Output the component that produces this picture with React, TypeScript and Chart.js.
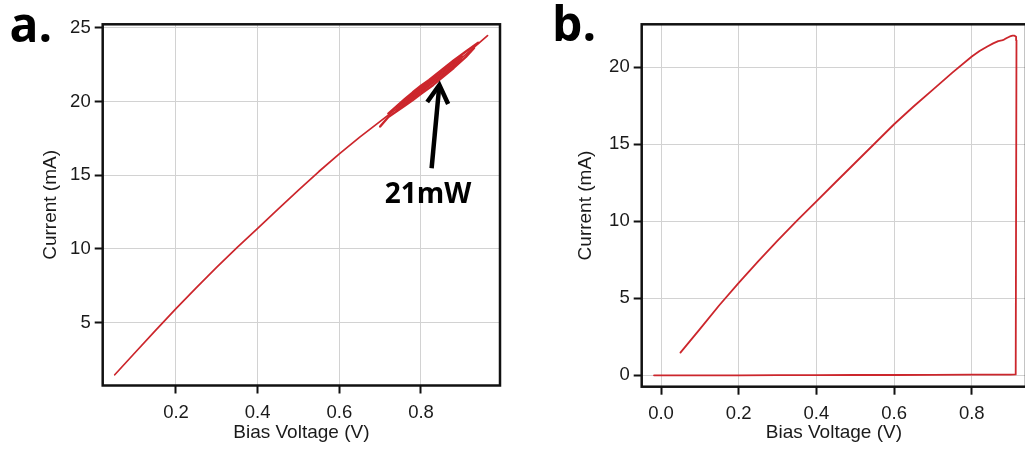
import React, { useEffect, useRef } from 'react';
import { Chart, registerables } from 'chart.js';

Chart.register(...registerables);

// ---------- Panel a data ----------
const aVoltage = [0.05, 0.1, 0.15, 0.2, 0.25, 0.3, 0.35, 0.4, 0.45, 0.5, 0.55, 0.6, 0.65, 0.7, 0.75, 0.8, 0.85, 0.9, 0.963];
const aCurrent = [1.47, 2.98, 4.48, 5.95, 7.38, 8.77, 10.1, 11.4, 12.7, 13.98, 15.25, 16.45, 17.58, 18.65, 19.72, 20.79, 21.85, 22.95, 24.46];
// noisy band of repeated sweeps near high bias (several overlapping traces)
const aBandUpperV = [0.72, 0.76, 0.78, 0.8, 0.82, 0.85, 0.88, 0.91, 0.94];
const aBandUpperI = [19.18, 20.15, 20.62, 21.06, 21.45, 22.12, 22.78, 23.39, 23.98];
const aBandLowerV = [0.7, 0.72, 0.76, 0.78, 0.8, 0.83, 0.85, 0.88, 0.91, 0.93];
const aBandLowerI = [18.3, 18.95, 19.71, 20.1, 20.52, 21.12, 21.58, 22.27, 23.02, 23.62];
const aBandMidUpV = [0.74, 0.8, 0.85, 0.9];
const aBandMidUpI = [19.62, 20.91, 21.97, 23.07];
const aBandMidLoV = [0.74, 0.8, 0.85, 0.9];
const aBandMidLoI = [19.38, 20.67, 21.73, 22.83];
const aXTicks = [0.2, 0.4, 0.6, 0.8];
const aYTicks = [5, 10, 15, 20, 25];
const aArrowTail = [0.826, 15.47];
const aArrowTip = [0.845, 21.12];
const aNoteLabel = '21mW';
const aNotePos = [0.817, 13.66];

// ---------- Panel b data ----------
const bVoltage = [-0.018, 0.1, 0.2, 0.3, 0.4, 0.5, 0.6, 0.7, 0.8, 0.9, 0.913, 0.915, 0.914, 0.91, 0.905, 0.898, 0.89, 0.883, 0.877, 0.868, 0.855, 0.84, 0.82, 0.8, 0.75, 0.7, 0.65, 0.6, 0.55, 0.5, 0.45, 0.4, 0.35, 0.3, 0.25, 0.2, 0.15, 0.1, 0.05];
const bCurrent = [0.0, 0.0, 0.0, 0.01, 0.01, 0.02, 0.02, 0.03, 0.04, 0.05, 0.06, 21.75, 21.98, 22.05, 22.05, 22.0, 21.9, 21.8, 21.74, 21.7, 21.55, 21.35, 21.05, 20.7, 19.65, 18.55, 17.45, 16.3, 15.05, 13.8, 12.55, 11.3, 10.05, 8.75, 7.4, 6.0, 4.55, 3.0, 1.47];
const bXTicks = [0.0, 0.2, 0.4, 0.6, 0.8];
const bYTicks = [0, 5, 10, 15, 20];

const RED = '#cc262c';
const FONT = '"Liberation Sans", Arial, sans-serif';

function makePoints(xs: number[], ys: number[]) {
  return xs.map((x, i) => ({ x, y: ys[i] }));
}

function lineSet(xs: number[], ys: number[], width: number) {
  return {
    data: makePoints(xs, ys),
    showLine: true,
    borderColor: RED,
    backgroundColor: RED,
    borderWidth: width,
    pointRadius: 0,
    tension: 0,
    borderCapStyle: 'round',
    borderJoinStyle: 'round',
  };
}

const framePlugin = {
  id: 'frame',
  afterDraw(chart: any) {
    const { ctx, chartArea } = chart;
    const { left, top, right, bottom } = chartArea;
    ctx.save();
    ctx.strokeStyle = '#111';
    ctx.lineWidth = 2.5;
    ctx.strokeRect(left, top, right - left, bottom - top);
    ctx.restore();
  },
};

function panelLabelPlugin(text: string, x: number, y: number) {
  return {
    id: 'panelLabel',
    afterDraw(chart: any) {
      const ctx = chart.ctx;
      ctx.save();
      ctx.fillStyle = '#000';
      ctx.font = 'bold 48px "Open Sans", sans-serif';
      ctx.textAlign = 'left';
      ctx.textBaseline = 'alphabetic';
      ctx.fillText(text, x, y);
      ctx.restore();
    },
  };
}

const arrowPlugin = {
  id: 'arrowNote',
  afterDatasetsDraw(chart: any) {
    const { ctx, scales } = chart;
    const xs = scales.x;
    const ys = scales.y;
    const tx = xs.getPixelForValue(aArrowTip[0]);
    const ty = ys.getPixelForValue(aArrowTip[1]);
    const bx = xs.getPixelForValue(aArrowTail[0]);
    const by = ys.getPixelForValue(aArrowTail[1]);
    const dx = bx - tx;
    const dy = by - ty;
    const len = Math.hypot(dx, dy);
    const ux = dx / len;
    const uy = dy / len;
    const ang = (30 * Math.PI) / 180;
    const hl = 21;
    const rot = (a: number) => [ux * Math.cos(a) - uy * Math.sin(a), ux * Math.sin(a) + uy * Math.cos(a)];
    const w1 = rot(ang);
    const w2 = rot(-ang);
    ctx.save();
    ctx.strokeStyle = '#000';
    ctx.lineWidth = 4.5;
    ctx.lineCap = 'butt';
    ctx.lineJoin = 'miter';
    ctx.beginPath();
    ctx.moveTo(bx, by);
    ctx.lineTo(tx + ux * 2, ty + uy * 2);
    ctx.stroke();
    ctx.beginPath();
    ctx.moveTo(tx + w1[0] * hl, ty + w1[1] * hl);
    ctx.lineTo(tx, ty);
    ctx.lineTo(tx + w2[0] * hl, ty + w2[1] * hl);
    ctx.stroke();
    ctx.fillStyle = '#000';
    ctx.font = 'bold 28px "Open Sans", sans-serif';
    ctx.textAlign = 'center';
    ctx.textBaseline = 'middle';
    ctx.fillText(aNoteLabel, xs.getPixelForValue(aNotePos[0]), ys.getPixelForValue(aNotePos[1]));
    ctx.restore();
  },
};

function axisOptions(
  ticksList: number[],
  min: number,
  max: number,
  isX: boolean,
  title: string,
  size: number,
  titlePad: any
) {
  return {
    type: 'linear',
    position: isX ? 'bottom' : 'left',
    min,
    max,
    afterBuildTicks: (scale: any) => {
      scale.ticks = ticksList.map((v) => ({ value: v }));
    },
    afterFit: (scale: any) => {
      if (isX) scale.height = size;
      else scale.width = size;
    },
    border: { display: false },
    grid: {
      color: '#d2d2d2',
      lineWidth: 1,
      drawTicks: true,
      tickLength: 8,
      tickColor: '#111',
      tickWidth: 2,
    },
    ticks: {
      color: '#1a1a1a',
      font: { family: FONT, size: 18.5 },
      padding: isX ? 8 : 4,
      maxRotation: 0,
      autoSkip: false,
      callback: (v: any) => (isX ? Number(v).toFixed(1) : String(v)),
    },
    title: {
      display: true,
      text: title,
      color: '#1a1a1a',
      font: { family: FONT, size: 19 },
      padding: titlePad,
    },
  };
}

function PanelA() {
  const ref = useRef<HTMLCanvasElement | null>(null);
  useEffect(() => {
    if (!ref.current) return;
    const chart = new Chart(ref.current, {
      type: 'scatter',
      data: {
        datasets: [
          lineSet(aVoltage, aCurrent, 1.7),
          lineSet(aBandUpperV, aBandUpperI, 2.4),
          lineSet(aBandLowerV, aBandLowerI, 2.4),
          lineSet(aBandMidUpV, aBandMidUpI, 2.4),
          lineSet(aBandMidLoV, aBandMidLoI, 2.4),
        ],
      },
      options: {
        responsive: false,
        animation: false,
        devicePixelRatio: 1,
        layout: { padding: { left: 12.7, top: 24.3, right: 20, bottom: 0 } },
        plugins: { legend: { display: false }, tooltip: { enabled: false } },
        scales: {
          x: axisOptions(aXTicks, 0.0205, 0.9935, true, 'Bias Voltage (V)', 64.5, { top: 0, bottom: 5.6 }),
          y: axisOptions(aYTicks, 0.742, 25.23, false, 'Current (mA)', 90, { top: 26.9, bottom: 0 }),
        },
      } as any,
      plugins: [framePlugin, arrowPlugin, panelLabelPlugin('a.', 9.6, 41.7)],
    });
    return () => chart.destroy();
  }, []);
  return (
    <canvas
      ref={ref}
      width={520}
      height={450}
      style={{ position: 'absolute', left: 0, top: 0, width: 520, height: 450 }}
    />
  );
}

function PanelB() {
  const ref = useRef<HTMLCanvasElement | null>(null);
  useEffect(() => {
    if (!ref.current) return;
    const chart = new Chart(ref.current, {
      type: 'scatter',
      data: {
        datasets: [lineSet(bVoltage, bCurrent, 1.8)],
      },
      options: {
        responsive: false,
        animation: false,
        devicePixelRatio: 1,
        layout: { padding: { left: 11.7, top: 24.3, right: 1, bottom: 0 } },
        plugins: { legend: { display: false }, tooltip: { enabled: false } },
        scales: {
          x: axisOptions(bXTicks, -0.0497, 0.9395, true, 'Bias Voltage (V)', 63.3, { top: 0, bottom: 5.6 }),
          y: axisOptions(bYTicks, -0.74, 22.79, false, 'Current (mA)', 90, { top: 22.9, bottom: 0 }),
        },
      } as any,
      plugins: [framePlugin, panelLabelPlugin('b.', 12, 41)],
    });
    return () => chart.destroy();
  }, []);
  return (
    <canvas
      ref={ref}
      width={487}
      height={450}
      style={{ position: 'absolute', left: 540, top: 0, width: 487, height: 450 }}
    />
  );
}

export default function App() {
  return (
    <div
      style={{
        position: 'absolute',
        left: 0,
        top: 0,
        width: 1025,
        height: 450,
        overflow: 'hidden',
        background: '#ffffff',
      }}
    >
      <PanelA />
      <PanelB />
    </div>
  );
}
